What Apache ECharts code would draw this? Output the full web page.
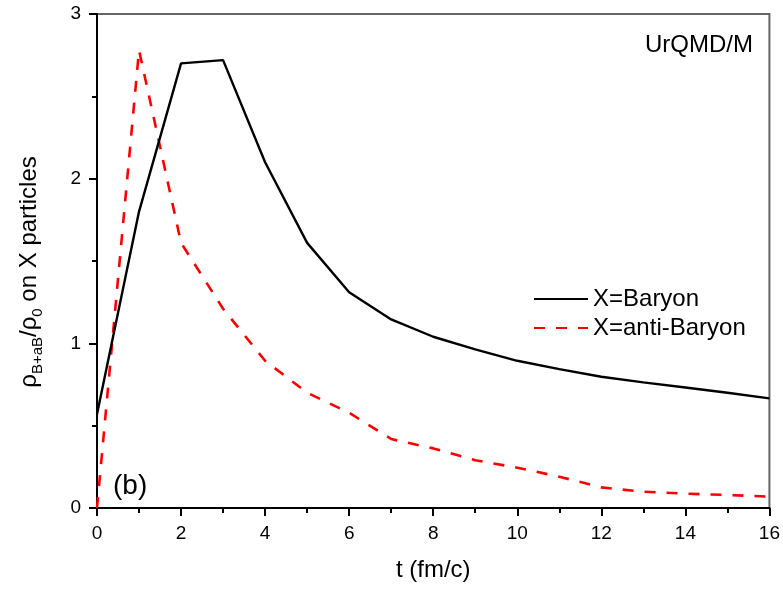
<!DOCTYPE html>
<html><head><meta charset="utf-8">
<script src="https://cdn.jsdelivr.net/npm/echarts@6/dist/echarts.min.js"></script>
<style>html,body{margin:0;padding:0;background:#fff}#c{width:783px;height:590px}</style>
</head><body><div id="c"></div>
<script>
const times = [0,1,2,3,4,5,6,7,8,9,10,11,12,13,14,15,16];
const baryon = [0.57,1.80,2.70,2.72,2.10,1.61,1.31,1.145,1.04,0.963,0.894,0.843,0.797,0.763,0.732,0.70,0.666];
const antiBaryon = [0.0,2.78,1.61,1.21,0.894,0.70,0.578,0.419,0.362,0.29,0.245,0.19,0.125,0.099,0.087,0.079,0.069];
const xTicks = [0,2,4,6,8,10,12,14,16];
const yTicks = [0,1,2,3];

const FONT = 'Liberation Sans, Arial, sans-serif';
const chart = echarts.init(document.getElementById('c'), null, {renderer:'canvas'});
chart.setOption({
  animation:false,
  backgroundColor:'#fff',
  grid:{left:97,right:13,top:14,bottom:82,show:true,borderColor:'#666',borderWidth:2,backgroundColor:'transparent'},
  xAxis:{
    type:'value',min:xTicks[0],max:xTicks[xTicks.length-1],interval:2,
    axisLine:{lineStyle:{color:'#000',width:2}},
    axisTick:{show:true,inside:false,length:8,lineStyle:{color:'#000',width:2}},
    minorTick:{show:true,splitNumber:2,length:5,lineStyle:{color:'#000',width:2}},
    splitLine:{show:false},
    axisLabel:{color:'#000',fontSize:19,fontFamily:FONT,margin:16},
    name:'t (fm/c)',nameLocation:'middle',nameGap:50,
    nameTextStyle:{color:'#000',fontSize:24,fontFamily:FONT}
  },
  yAxis:{
    type:'value',min:yTicks[0],max:yTicks[yTicks.length-1],interval:1,
    axisLine:{lineStyle:{color:'#000',width:2}},
    axisTick:{show:true,inside:false,length:8,lineStyle:{color:'#000',width:2}},
    minorTick:{show:true,splitNumber:2,length:5,lineStyle:{color:'#000',width:2}},
    splitLine:{show:false},
    axisLabel:{color:'#000',fontSize:19,fontFamily:FONT,margin:16},
    name:'{r|ρ}{s|B+aB}{r|/ρ}{s|0}{r| on X particles}{g|}',nameLocation:'middle',nameGap:52,nameRotate:90,
    nameTextStyle:{color:'#000',fontSize:24,fontFamily:FONT,
      rich:{r:{fontSize:24,fontFamily:FONT,color:'#000',verticalAlign:'top',lineHeight:28},
            s:{fontSize:15,fontFamily:FONT,color:'#000',verticalAlign:'bottom',lineHeight:28,padding:[14,0,0,0]},
            g:{width:22,lineHeight:28}}}
  },
  legend:{
    show:true,orient:'vertical',left:528,top:282,itemWidth:54,itemHeight:14,itemGap:5,
    itemStyle:{opacity:0},
    textStyle:{color:'#000',fontSize:24,fontFamily:FONT},
    data:['X=Baryon','X=anti-Baryon']
  },
  series:[
    {name:'X=Baryon',type:'line',data:times.map((t,i)=>[t,baryon[i]]),symbol:'none',
     lineStyle:{color:'#000',width:2.4},itemStyle:{color:'#000'},z:3},
    {name:'X=anti-Baryon',type:'line',data:times.map((t,i)=>[t,antiBaryon[i]]),symbol:'none',
     lineStyle:{color:'#ff0000',width:2.6,type:[11,11]},itemStyle:{color:'#ff0000'},z:2}
  ],
  graphic:[
    {type:'text',left:645,top:33,style:{text:'UrQMD/M',fontSize:24,fontFamily:FONT,fill:'#000'}},
    {type:'text',left:113,top:472,style:{text:'(b)',fontSize:28,fontFamily:FONT,fill:'#000'}}
  ]
});
</script></body></html>
